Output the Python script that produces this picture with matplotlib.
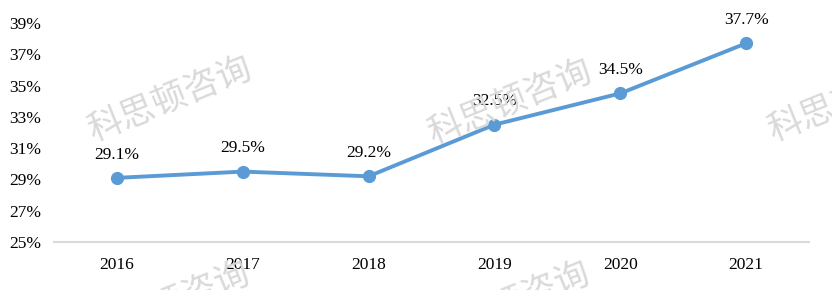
import matplotlib
matplotlib.use("Agg")
import matplotlib.pyplot as plt

years = ["2016", "2017", "2018", "2019", "2020", "2021"]
values = [29.1, 29.5, 29.2, 32.5, 34.5, 37.7]
yticks = [25, 27, 29, 31, 33, 35, 37, 39]
watermark = "科思顿咨询"

fig = plt.figure(figsize=(8.32, 2.9), dpi=100)
ax = fig.add_axes([54/832, 1-242/290, (809-54)/832, (242-23)/290])

# watermarks (figure coords in pixels)
wm_centers = [(170, 100), (510, 103), (850, 100), (168, 305), (508, 305)]
for cx, cy in wm_centers:
    fig.text(cx/832, 1-cy/290, watermark, fontsize=25, color="#d9d9d9",
             rotation=22, ha="center", va="center",
             family=["Noto Sans CJK SC", "DejaVu Sans"], zorder=0)

x = list(range(len(years)))
ax.plot(x, values, color="#5B9BD5", linewidth=2.8, marker="o", markersize=8.5,
        solid_capstyle="round", zorder=3)
for xi, v in zip(x, values):
    ax.annotate(f"{v:.1f}%", (xi, v), xytext=(0, 11), textcoords="offset points",
                ha="center", va="bottom", fontsize=12.5, family="Liberation Serif",
                color="#000000", annotation_clip=False)

ax.set_xlim(-0.5, len(years)-0.5)
ax.set_ylim(25, 39)
ax.set_yticks(yticks)
ax.set_yticklabels([f"{t}%" for t in yticks], family="Liberation Serif", fontsize=12.5)
ax.set_xticks(x)
ax.set_xticklabels(years, family="Liberation Serif", fontsize=12.5)
ax.tick_params(axis="both", length=0, colors="#000000")
ax.tick_params(axis="x", pad=11)
ax.tick_params(axis="y", pad=9)
for s in ["top", "right", "left"]:
    ax.spines[s].set_visible(False)
ax.spines["bottom"].set_color("#d9d9d9")
ax.spines["bottom"].set_linewidth(1.5)
ax.patch.set_alpha(0)

fig.savefig("out.png", dpi=100)
